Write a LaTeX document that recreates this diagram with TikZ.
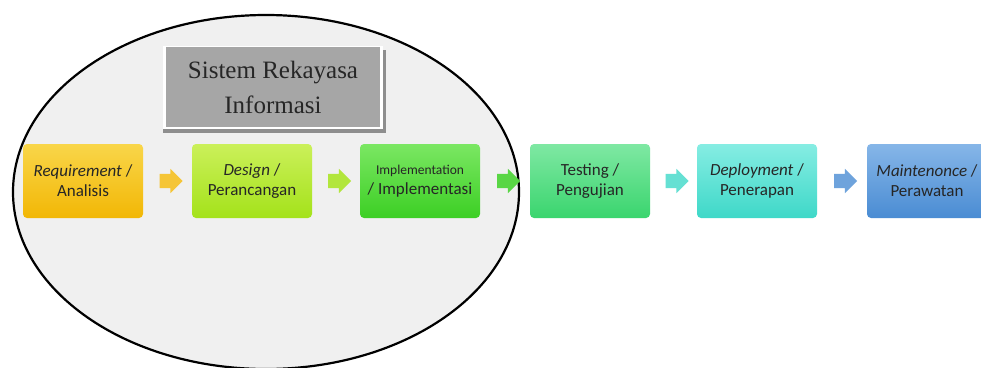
\documentclass[tikz,border=0pt]{standalone}
\usepackage{fontspec}
\setmainfont{Liberation Serif}
\newfontfamily\boxfont{Carlito}
\usetikzlibrary{shapes.arrows,calc}
\definecolor{cReq}{HTML}{F2B705}
\definecolor{cReqT}{HTML}{F9D64A}
\definecolor{cDes}{HTML}{A4E21A}
\definecolor{cDesT}{HTML}{CBF05A}
\definecolor{cImp}{HTML}{3CCF24}
\definecolor{cImpT}{HTML}{7BE763}
\definecolor{cTes}{HTML}{3AD56E}
\definecolor{cTesT}{HTML}{7FE8A3}
\definecolor{cDep}{HTML}{3ED8C8}
\definecolor{cDepT}{HTML}{86EDE3}
\definecolor{cMai}{HTML}{4A8CD3}
\definecolor{cMaiT}{HTML}{86B6E8}
\definecolor{ellfill}{HTML}{F0F0F0}
\definecolor{titlefill}{HTML}{A6A6A6}
\definecolor{titleshadow}{HTML}{8E8E8E}
\tikzset{
  stage/.style={rounded corners=4pt, minimum width=120pt, minimum height=74pt,
    align=center, font=\boxfont\fontsize{17}{20}\selectfont, text=black!85, inner sep=1pt},
  flowarrow/.style={single arrow, single arrow head extend=5pt, minimum height=23pt,
    inner xsep=0pt, inner ysep=7pt, draw=none},
}
\begin{document}
\begin{tikzpicture}[x=1pt,y=-1pt]
\useasboundingbox (0,0) rectangle (981,367);
\fill[white] (0,0) rectangle (981,367);
% ellipse
\draw[line width=2.2pt, fill=ellfill] (266,192) ellipse [x radius=253, y radius=177];
% title box
\fill[titleshadow] (163,50) rectangle (386,133);
\fill[white] (163,46) rectangle (383,129);
\node[fill=titlefill, minimum width=214pt, minimum height=80pt, inner sep=0pt,
  align=center, font=\fontsize{25}{35}\selectfont, text=black!85] (title) at (273,87)
  {Sistem Rekayasa\\Informasi};
% stages
\node[stage, top color=cReqT, bottom color=cReq] (req) at (83,181) {\textit{Requirement} /\\Analisis};
\node[stage, top color=cDesT, bottom color=cDes] (des) at (252,181) {\textit{Design} /\\Perancangan};
\node[stage, top color=cImpT, bottom color=cImp] (imp) at (420,181) {{\fontsize{13.5}{20}\selectfont Implementation}\\/ Implementasi};
\node[stage, top color=cTesT, bottom color=cTes] (tes) at (590,181) {Testing /\\Pengujian};
\node[stage, top color=cDepT, bottom color=cDep] (dep) at (757,181) {\textit{Deployment} /\\Penerapan};
\node[stage, top color=cMaiT, bottom color=cMai] (mai) at (927,181) {\textit{Maintenonce} /\\Perawatan};
% arrows
\node[flowarrow, fill=cReq!80] (a1) at ($(req.east)!0.5!(des.west)$) {};
\node[flowarrow, fill=cDes!85] (a2) at ($(des.east)!0.5!(imp.west)$) {};
\node[flowarrow, fill=cImp!85] (a3) at ($(imp.east)!0.5!(tes.west)$) {};
\node[flowarrow, fill=cDep!80] (a4) at ($(tes.east)!0.5!(dep.west)$) {};
\node[flowarrow, fill=cMai!80] (a5) at ($(dep.east)!0.5!(mai.west)$) {};
\end{tikzpicture}
\end{document}
